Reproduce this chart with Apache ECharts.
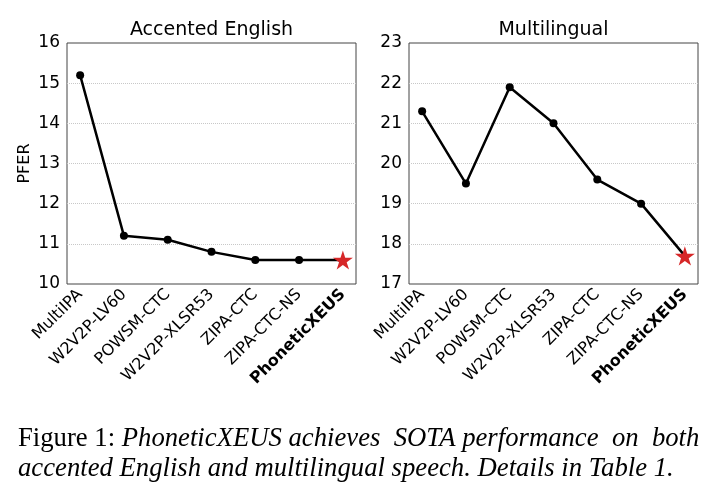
<!DOCTYPE html>
<html>
<head>
<meta charset="utf-8">
<script src="https://cdn.jsdelivr.net/npm/echarts@6/dist/echarts.min.js"></script>
<style>
    html, body { margin: 0; padding: 0; background: #fff; }
    #main { width: 720px; height: 503px; }
</style>
</head>
<body>
<div id="main"></div>
<script>
// Models on the x axis (last one is ours, drawn bold with a star)
const models = ["MultiIPA", "W2V2P-LV60", "POWSM-CTC", "W2V2P-XLSR53", "ZIPA-CTC", "ZIPA-CTC-NS", "PhoneticXEUS"];

// PFER per model
const accentedPFER = [15.2, 11.2, 11.1, 10.8, 10.6, 10.6, 10.6];
const multilingualPFER = [21.3, 19.5, 21.9, 21.0, 19.6, 19.0, 17.7];

const panelTitles = ["Accented English", "Multilingual"];
const yRanges = [[10, 16], [17, 23]];

const STAR = "path://M50 0 L61.23 34.55 L97.55 34.55 L68.16 55.9 L79.39 90.45 L50 69.1 L20.61 90.45 L31.84 55.9 L2.45 34.55 L38.77 34.55 Z";
const FONT = "DejaVu Sans";
const SERIF = "Liberation Serif";

const chart = echarts.init(document.getElementById("main"));

// Turn a value array into points, last one becomes the red star
const toPoints = (vals) => vals.map((v, i) => {
    if (i === vals.length - 1) {
        return {
            value: [i, v],
            symbol: STAR,
            symbolSize: 20,
            symbolKeepAspect: true,
            itemStyle: { color: "#d62728" },
        };
    }
    return [i, v];
});

const grids = [
    { left: 67, top: 43, width: 289, height: 241 },
    { left: 409, top: 43, width: 289, height: 241 },
];

const xAxes = grids.map((g, k) => ({
    type: "value",
    gridIndex: k,
    min: -0.3,
    max: 6.3,
    axisLine: { show: false },
    axisTick: { show: false },
    splitLine: { show: false },
    axisLabel: {
        customValues: models.map((m, i) => i),
        rotate: 45,
        margin: 8,
        color: "#000",
        fontFamily: FONT,
        fontSize: 16,
        formatter: (val) => {
            const name = models[Math.round(val)];
            return name === "PhoneticXEUS" ? "{b|" + name + "}" : name;
        },
        rich: {
            b: { fontWeight: "bold", fontFamily: FONT, fontSize: 16, color: "#000" },
        },
    },
}));

const yAxes = grids.map((g, k) => ({
    type: "value",
    gridIndex: k,
    min: yRanges[k][0],
    max: yRanges[k][1],
    interval: 1,
    name: k === 0 ? "PFER" : "",
    nameLocation: "middle",
    nameGap: 34,
    nameTextStyle: { color: "#000", fontFamily: FONT, fontSize: 16 },
    axisLine: { show: false },
    axisTick: { show: false },
    axisLabel: { color: "#000", fontFamily: FONT, fontSize: 17, margin: 7 },
    splitLine: {
        show: true,
        showMinLine: false,
        showMaxLine: false,
        lineStyle: { color: "#c8c8c8", type: "dotted", width: 1 },
    },
}));

const lineSeries = [accentedPFER, multilingualPFER].map((vals, k) => ({
    type: "line",
    xAxisIndex: k,
    yAxisIndex: k,
    data: toPoints(vals),
    symbol: "circle",
    symbolSize: 8,
    color: "#000",
    lineStyle: { color: "#000", width: 2.5 },
    itemStyle: { color: "#000" },
    z: 3,
}));

options = {
    animation: false,
    title: panelTitles.map((t, k) => ({
        text: t,
        left: grids[k].left + grids[k].width / 2,
        textAlign: "center",
        top: 21,
        padding: 0,
        textStyle: { color: "#000", fontFamily: FONT, fontSize: 19, fontWeight: "normal" },
    })),
    grid: grids.map((g) => ({
        ...g,
        show: true,
        borderColor: "#444",
        borderWidth: 1,
        backgroundColor: "transparent",
    })),
    xAxis: xAxes,
    yAxis: yAxes,
    series: lineSeries,
    graphic: [
        {
            type: "text",
            left: 18,
            top: 425,
            style: {
                // extra spaces stand in for the justified line
                text: "{n|Figure 1:}  {i|PhoneticXEUS achieves  SOTA performance  on  both}",
                rich: {
                    n: { fontFamily: SERIF, fontSize: 26.7, fill: "#000" },
                    i: { fontFamily: SERIF, fontSize: 26.7, fontStyle: "italic", fill: "#000" },
                },
            },
        },
        {
            type: "text",
            left: 18,
            top: 455,
            style: {
                text: "accented English and multilingual speech. Details in Table 1.",
                fontFamily: SERIF,
                fontSize: 26.7,
                fontStyle: "italic",
                fill: "#000",
            },
        },
    ],
};

chart.setOption(options);
</script>
</body>
</html>
